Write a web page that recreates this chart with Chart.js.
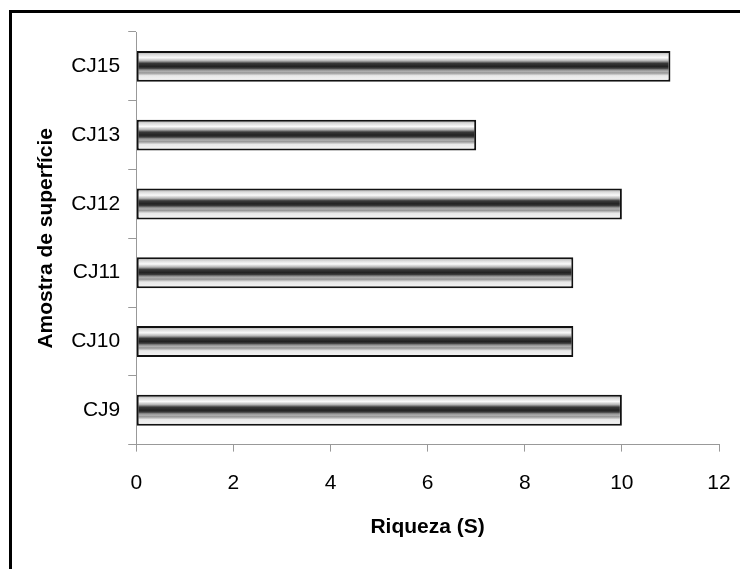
<!DOCTYPE html>
<html>
<head>
<meta charset="utf-8">
<script src="https://cdn.jsdelivr.net/npm/chart.js@4"></script>
<style>
  html, body { margin: 0; padding: 0; background: #fff; }
  #wrap { position: relative; width: 740px; height: 569px; }
  #frame { position: absolute; left: 9px; top: 10px; right: 0; bottom: 0;
           border-left: 3px solid #000; border-top: 3px solid #000; pointer-events: none; }
</style>
</head>
<body>
<div id="wrap">
  <canvas id="riqueza" width="740" height="569"></canvas>
  <div id="frame"></div>
</div>
<script>
// dados
var amostras = ['CJ15', 'CJ13', 'CJ12', 'CJ11', 'CJ10', 'CJ9'];
var riqueza = [11, 7, 10, 9, 9, 10];
var xMax = 12;
var xStep = 2;

var barPct = 0.45;
var fonte = "'Liberation Sans', Arial, sans-serif";

// cilindro: claro em cima, faixa escura no meio, claro embaixo
var paradas = [
  [0.00, '#9a9a9a'], [0.12, '#dcdcdc'], [0.22, '#fafafa'], [0.32, '#b4b4b4'],
  [0.40, '#3a3a3a'], [0.50, '#222222'], [0.56, '#3c3c3c'], [0.61, '#8a8a8a'],
  [0.66, '#b0b0b0'], [0.71, '#969696'], [0.80, '#e8e8e8'], [1.00, '#f6f6f6']
];

function preenchimento(ctx) {
  var chart = ctx.chart;
  var y = chart.scales.y;
  if (!y || !y.height) return '#bbbbbb';
  var centro = y.getPixelForValue(ctx.dataIndex);
  var meia = (y.height / amostras.length) * barPct / 2;
  var g = chart.ctx.createLinearGradient(0, centro - meia, 0, centro + meia);
  paradas.forEach(function (p) { g.addColorStop(p[0], p[1]); });
  return g;
}

new Chart(document.getElementById('riqueza'), {
  type: 'bar',
  data: {
    labels: amostras,
    datasets: [{
      label: 'Riqueza (S)',
      data: riqueza,
      backgroundColor: preenchimento,
      borderColor: '#111',
      borderWidth: 2,
      borderSkipped: false,
      barPercentage: barPct,
      categoryPercentage: 1
    }]
  },
  options: {
    indexAxis: 'y',
    responsive: false,
    animation: false,
    layout: { padding: { left: 28, top: 32, right: 21, bottom: 25 } },
    plugins: { legend: { display: false }, tooltip: { enabled: false } },
    scales: {
      x: {
        min: 0, max: xMax,
        afterFit: function (scale) { scale.paddingRight = 0; },
        ticks: { stepSize: xStep, color: '#000', padding: 19, font: { family: fonte, size: 21 } },
        grid: { drawOnChartArea: false, tickLength: 7, color: '#999' },
        border: { color: '#999', width: 1 },
        title: { display: true, text: 'Riqueza (S)', color: '#000',
                 font: { family: fonte, size: 21, weight: 'bold' }, padding: { top: 0, bottom: 4 } }
      },
      y: {
        ticks: { color: '#000', padding: 8, font: { family: fonte, size: 21 } },
        grid: { drawOnChartArea: false, tickLength: 8, color: '#999' },
        border: { color: '#999', width: 1 },
        title: { display: true, text: 'Amostra de superfície', color: '#000',
                 font: { family: fonte, size: 21, weight: 'bold' }, padding: { top: 6, bottom: 4 } }
      }
    }
  }
});
</script>
</body>
</html>
